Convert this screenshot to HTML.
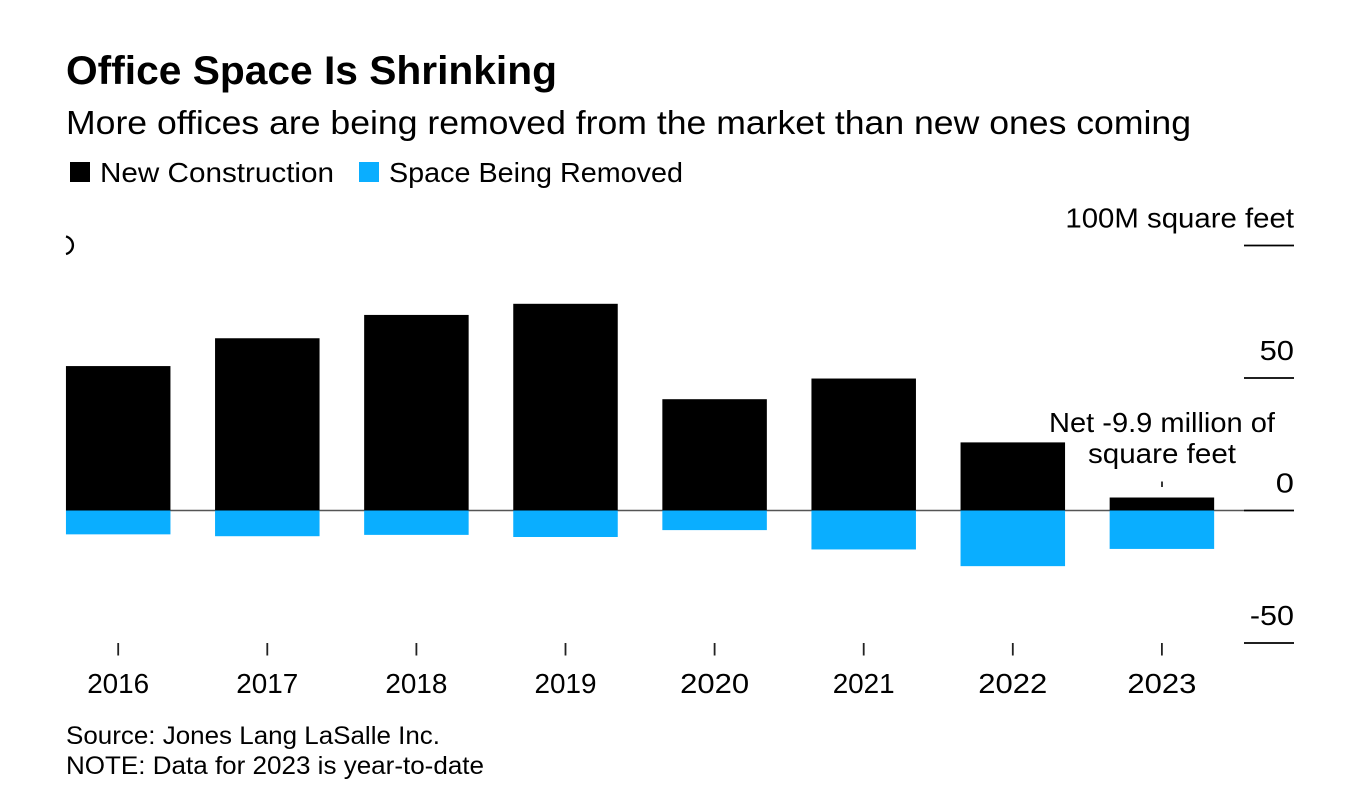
<!DOCTYPE html>
<html lang="en">
<head>
<meta charset="utf-8">
<title>Office Space Is Shrinking</title>
<style>
html,body{margin:0;padding:0;background:#fff;width:1348px;height:808px;overflow:hidden}
svg{display:block;font-family:"Liberation Sans",Arial,sans-serif;fill:#000}
</style>
</head>
<body>
<svg id="chart" width="1348" height="808" viewBox="0 0 1348 808" xmlns="http://www.w3.org/2000/svg">
  <rect x="0" y="0" width="1348" height="808" fill="#fff"/>
  <text x="66" y="84" font-size="40" font-weight="700" textLength="491" lengthAdjust="spacingAndGlyphs">Office Space Is Shrinking</text>
  <text x="66" y="134" font-size="33" textLength="1125" lengthAdjust="spacingAndGlyphs">More offices are being removed from the market than new ones coming</text>
  <rect x="70" y="162" width="20" height="20" fill="#000"/>
  <text x="100" y="182" font-size="28" textLength="234" lengthAdjust="spacingAndGlyphs">New Construction</text>
  <rect x="359" y="162" width="20" height="20" fill="#0aaeff"/>
  <text x="389" y="182" font-size="28" textLength="294" lengthAdjust="spacingAndGlyphs">Space Being Removed</text>
  <g id="plot"></g>
  <path d="M66 236.5 A9 9 0 0 1 66 254" fill="none" stroke="#000" stroke-width="2.4"/>
  <text x="1162" y="432" font-size="28" text-anchor="middle" textLength="226" lengthAdjust="spacingAndGlyphs">Net -9.9 million of</text>
  <text x="1162" y="463" font-size="28" text-anchor="middle" textLength="148" lengthAdjust="spacingAndGlyphs">square feet</text>
  <line x1="1162" y1="481.5" x2="1162" y2="487" stroke="#222" stroke-width="1.8"/>
  <text x="66" y="744" font-size="25" textLength="374" lengthAdjust="spacingAndGlyphs">Source: Jones Lang LaSalle Inc.</text>
  <text x="66" y="774" font-size="25" textLength="418" lengthAdjust="spacingAndGlyphs">NOTE: Data for 2023 is year-to-date</text>
</svg>
<script>
const categories = ["2016","2017","2018","2019","2020","2021","2022","2023"];
const newConstruction = [54.5,65,73.8,78,42,49.8,25.7,4.9];
const spaceRemoved = [-9,-9.7,-9.2,-10,-7.4,-14.7,-21,-14.5];
const yTicks = [100,50,0,-50];
const yTickLabels = ["100M square feet","50","0","-50"];

const NS = "http://www.w3.org/2000/svg";
const plot = document.getElementById("plot");
function y(v){ return 510.5 - v * 2.65; }
function xCenter(i){ return 118.2 + i * 149.1; }
const barWidth = 104.5;

function make(tag, attrs, parent){
  const el = document.createElementNS(NS, tag);
  for (const k in attrs) el.setAttribute(k, attrs[k]);
  parent.appendChild(el);
  return el;
}

const zero = make("line", {x1:66, x2:1244, y1:y(0), y2:y(0), stroke:"#555", "stroke-width":1.6}, plot);



yTicks.forEach(function(t, i){
  const line = make("line", {x1:1244, x2:1294, y1:y(t), y2:y(t), stroke:"#000", "stroke-width":1.8}, plot);
  
  
  const label = make("text", {x:1294, y:y(t)-18, "font-size":28, "text-anchor":"end"}, plot);
  
  
  label.textContent = yTickLabels[i];
  // the reference typeface runs slightly wider than Liberation Sans
  label.setAttribute('textLength', (label.getComputedTextLength() * 1.04 + 2).toFixed(1));
  label.setAttribute('lengthAdjust', 'spacingAndGlyphs');
});

categories.forEach(function(c, i){
  const cx = xCenter(i);
  const top = make("rect", {x:cx-barWidth/2, width:barWidth, y:y(newConstruction[i]), height:y(0)-y(newConstruction[i]), fill:"#000"}, plot);
  
  
  const bottom = make("rect", {x:cx-barWidth/2, width:barWidth, y:y(0), height:y(spaceRemoved[i])-y(0), fill:"#0aaeff"}, plot);
  
  
  const tick = make("line", {x1:cx, x2:cx, y1:643, y2:655.5, stroke:"#222", "stroke-width":1.8}, plot);
  
  
  const label = make("text", {x:cx, y:693, "font-size":28, "text-anchor":"middle"}, plot);
  
  
  label.textContent = c;
  // the reference typeface has a narrow "1"; labels without one run wider
  label.setAttribute('textLength', c.indexOf("1") >= 0 ? 62 : 69);
  label.setAttribute('lengthAdjust', 'spacingAndGlyphs');
});
</script>
</body>
</html>
